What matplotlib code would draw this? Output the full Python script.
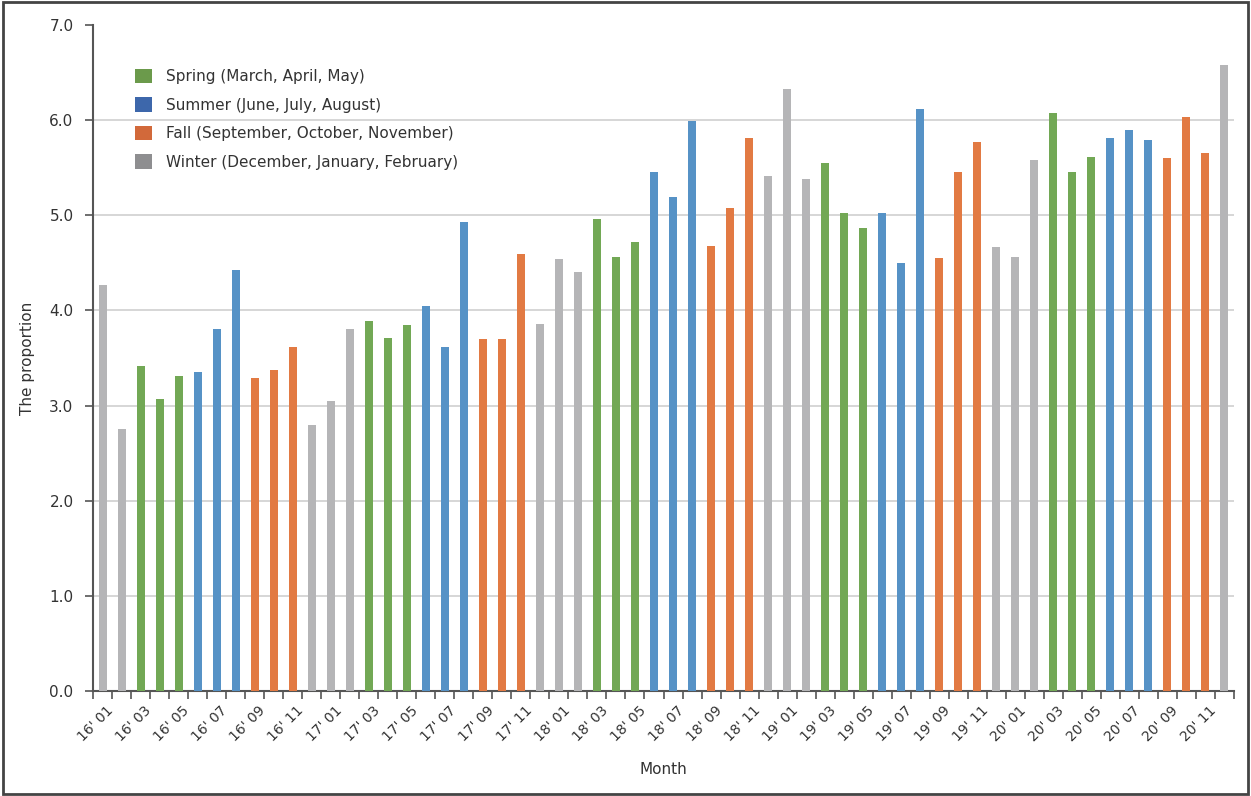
import matplotlib
matplotlib.use("Agg")
import matplotlib.pyplot as plt
from matplotlib.patches import Patch, Rectangle

years = ["16", "17", "18", "19", "20"]
months = ["01", "02", "03", "04", "05", "06", "07", "08", "09", "10", "11", "12"]
categories = [f"{y}' {m}" for y in years for m in months]

values = [
    4.27, 2.75, 3.42, 3.07, 3.31, 3.35, 3.81, 4.43, 3.29, 3.37, 3.62, 2.80,
    3.05, 3.80, 3.89, 3.71, 3.85, 4.05, 3.62, 4.93, 3.70, 3.70, 4.59, 3.86,
    4.54, 4.40, 4.96, 4.56, 4.72, 5.46, 5.19, 5.99, 4.68, 5.08, 5.81, 5.41,
    6.33, 5.38, 5.55, 5.02, 4.87, 5.02, 4.50, 6.12, 4.55, 5.45, 5.77, 4.67,
    4.56, 5.58, 6.07, 5.45, 5.61, 5.81, 5.90, 5.79, 5.60, 6.03, 5.65, 6.58,
]

season_names = ["Spring (March, April, May)", "Summer (June, July, August)",
                "Fall (September, October, November)", "Winter (December, January, February)"]
month_season = {1: 3, 2: 3, 3: 0, 4: 0, 5: 0, 6: 1, 7: 1, 8: 1, 9: 2, 10: 2, 11: 2, 12: 3}
bar_colors = ["#72A855", "#5692C6", "#E27A43", "#B5B5B7"]
legend_colors = ["#6B9A4B", "#3D67AB", "#D2693A", "#8E8E90"]

fig = plt.figure(figsize=(12.51, 7.96), dpi=100)
W, H = 1251, 796
ax = fig.add_axes([93 / W, 1 - 691 / H, (1234 - 93) / W, (691 - 25) / H])

x = list(range(len(values)))
cols = [bar_colors[month_season[int(c[-2:])]] for c in categories]
ax.bar(x, values, width=0.42, color=cols, zorder=3)

ax.set_xlim(-0.5, len(values) - 0.5)
ax.set_ylim(0, 7.0)
ax.set_yticks([i * 1.0 for i in range(8)])
ax.set_yticklabels([f"{i:.1f}" for i in range(8)], fontsize=11, color="#333333")
ax.yaxis.grid(True, color="#D0D0D0", linewidth=1.2, zorder=0)
ax.yaxis.get_gridlines()[-1].set_visible(False)
ax.set_axisbelow(True)

# category boundary ticks
ax.set_xticks([i - 0.5 for i in range(len(values) + 1)])
ax.set_xticklabels([""] * (len(values) + 1))
ax.tick_params(axis="x", length=6, width=1.2, color="#555555", direction="out")
ax.tick_params(axis="y", length=6, width=1.2, color="#555555", direction="out", pad=8)

# labels every second month
for i in range(0, len(values), 2):
    ax.text(i + 0.2, -0.13, categories[i], rotation=45, ha="right", va="top",
            rotation_mode="anchor", fontsize=10, color="#333333",
            transform=ax.transData)

for s in ["top", "right"]:
    ax.spines[s].set_visible(False)
for s in ["left", "bottom"]:
    ax.spines[s].set_color("#555555")
    ax.spines[s].set_linewidth(1.5)

ax.set_ylabel("The proportion", fontsize=11, color="#333333", labelpad=10)
fig.text(663 / W, 1 - 770 / H, "Month", ha="center", va="center", fontsize=11, color="#333333")

handles = [Patch(facecolor=c, edgecolor="none") for c in legend_colors]
leg = ax.legend(handles, season_names, loc="upper left", bbox_to_anchor=(0.025, 0.955),
                frameon=False, fontsize=11, handlelength=1.1, handleheight=1.1,
                labelspacing=0.85, handletextpad=0.9, labelcolor="#333333")

fig.patches.append(Rectangle((0.002, 0.003), 0.996, 0.994, transform=fig.transFigure,
                             fill=False, edgecolor="#444444", linewidth=2))

fig.savefig("out.png", dpi=100)
